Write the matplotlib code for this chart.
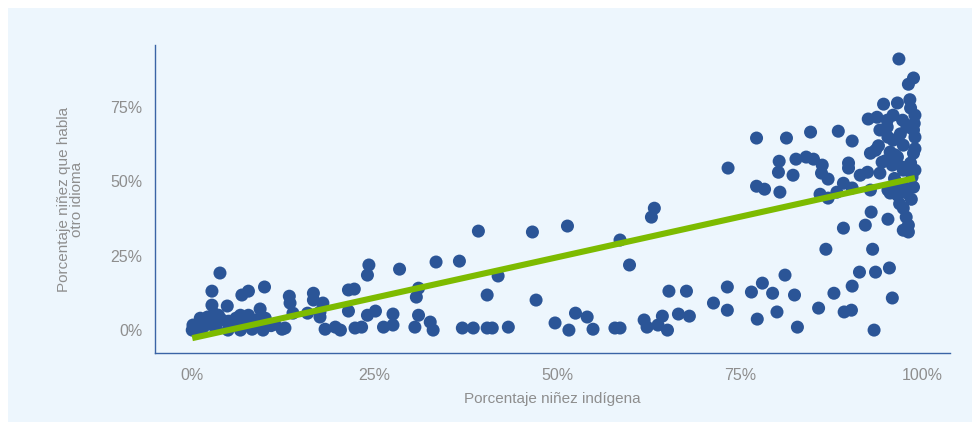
import matplotlib
matplotlib.use("Agg")
import matplotlib.pyplot as plt
from matplotlib.patches import Rectangle
from matplotlib.ticker import FuncFormatter

# Percentage of indigenous children (x) vs percentage speaking another language (y)
pct_indigena = [
    0.0, 0.1, 0.7, 1.1, 1.8, 2.1, 2.7, 2.7, 3.8, 3.2, 4.1, 4.8, 5.5, 6.0, 6.6, 6.8,
    7.7, 7.7, 6.6, 8.2, 8.6, 9.3, 9.9, 9.7, 10.0, 4.9, 3.6, 1.1, 12.7, 12.3,
    13.3, 13.4, 13.8, 15.8, 16.6, 16.6, 17.9, 17.5, 17.5, 18.2, 19.6, 20.3,
    21.4, 22.2, 21.4, 22.3, 23.2, 24.2, 24.0, 24.0, 25.1, 26.2, 27.5, 27.5,
    28.4, 30.5, 30.7, 31.0, 31.0, 32.6, 33.0, 33.4, 36.6, 37.0, 38.5, 39.2,
    40.4, 41.1, 40.4, 41.9, 43.3, 46.6, 47.1, 49.7, 51.4, 51.6, 52.5, 54.1,
    54.9, 57.9, 58.6, 58.6, 59.9, 61.9, 62.3, 62.9, 63.3, 63.8, 64.4, 65.1,
    65.3, 66.6, 67.7, 68.1, 71.4, 73.3, 73.3, 73.4, 76.6, 77.3, 77.3, 77.4,
    78.1, 78.4, 79.5, 80.1, 80.3, 80.4, 80.5, 81.2, 81.4, 82.3, 82.5, 82.7,
    82.9, 84.1, 84.7, 85.1, 85.8, 86.0, 86.2, 86.3, 86.8, 87.1, 87.1, 87.9,
    88.3, 88.5, 89.2, 89.2, 89.3, 89.9, 89.9, 90.3, 90.4, 90.4, 90.4, 91.4,
    91.5, 92.2, 92.5, 92.6, 92.9, 92.9, 93.0, 93.2, 93.4, 93.6, 93.6, 93.8,
    94.2, 94.2, 94.7, 95.2, 95.2, 95.3, 95.3, 95.3, 95.5, 95.6, 95.6, 95.9,
    95.9, 96.0, 96.0, 96.6, 96.6, 96.6, 96.6, 96.8, 97.3, 97.4, 97.4, 97.4,
    97.4, 97.7, 97.9, 97.9, 98.1, 98.1, 98.1, 98.4, 98.4, 98.6, 98.8, 98.8,
    98.8, 98.8, 99.0, 99.0, 99.0, 96.3, 97.3,
    # extra density
    0.4, 1.5, 2.5, 3.0, 5.0, 7.3, 8.9, 10.8, 11.3, 94.0, 97.0, 96.2, 95.0,
    98.5, 99.0, 97.8, 98.9, 96.9, 94.5, 98.3,
]
pct_otro_idioma = [
    0.0, 1.7, 0.7, 0.0, 2.7, 4.4, 8.4, 13.1, 19.2, 1.0, 3.4, 8.1, 1.7, 4.0, 5.0, 11.8,
    13.1, 5.0, 0.0, 0.3, 2.7, 7.1, 14.5, 0.0, 4.0, 0.0, 5.0, 4.0, 0.7, 0.3,
    11.4, 9.1, 5.7, 5.7, 12.4, 10.1, 9.1, 6.1, 4.4, 0.3, 1.0, 0.0,
    13.5, 13.8, 6.4, 0.7, 1.0, 21.9, 18.5, 5.0, 6.4, 1.0, 5.4, 1.7,
    20.5, 1.0, 11.1, 14.1, 5.0, 2.7, 0.0, 22.9, 23.2, 0.7, 0.7, 33.3,
    0.7, 0.7, 11.8, 18.2, 1.0, 33.0, 10.1, 2.4, 35.0, 0.0, 5.7, 4.4,
    0.3, 0.7, 0.7, 30.3, 21.9, 3.4, 1.0, 38.0, 41.0, 1.7, 4.7, 0.0,
    13.1, 5.4, 13.1, 4.7, 9.1, 14.5, 6.7, 54.5, 12.8, 64.6, 48.4, 3.7,
    15.8, 47.4, 12.4, 6.1, 53.1, 56.8, 46.4, 18.5, 64.6, 52.1, 11.8, 57.5,
    1.0, 58.2, 66.6, 57.5, 7.4, 45.7, 52.8, 55.5, 27.2, 50.8, 44.4, 12.4,
    46.4, 66.9, 49.4, 34.3, 6.1, 56.2, 54.5, 6.7, 63.6, 14.8, 47.8, 19.5,
    52.1, 35.3, 53.1, 71.0, 59.5, 47.1, 39.7, 27.2, 0.0, 19.5, 60.5, 71.6,
    67.3, 52.8, 76.0, 68.3, 70.6, 64.9, 47.1, 37.3, 20.9, 59.9, 46.1, 55.5,
    10.8, 72.3, 63.9, 76.4, 58.2, 48.1, 45.4, 91.2, 70.6, 62.2, 53.8, 41.0,
    33.6, 47.8, 68.3, 46.1, 82.7, 35.3, 33.0, 74.7, 56.2, 51.5, 84.8, 67.3,
    59.5, 48.1, 72.3, 64.9, 53.8, 58.9, 54.8,
    # extra density
    0.5, 1.0, 2.0, 5.5, 3.0, 2.0, 3.5, 1.5, 2.0, 62.0, 66.0, 51.0, 57.0,
    44.0, 61.0, 38.0, 69.5, 42.5, 56.5, 77.5,
]

# Fitted trend line
fit_intercept = -2.7
fit_slope = 0.544

x_ticks = [0, 25, 50, 75, 100]
y_ticks = [0, 25, 50, 75]
x_label = "Porcentaje niñez indígena"
y_label = "Porcentaje niñez que habla\notro idioma"

W, H = 980, 426
fig = plt.figure(figsize=(W / 100, H / 100), dpi=100)
fig.patch.set_facecolor("white")
panel = Rectangle((8 / W, 4 / H), 964 / W, 414 / H,
                  transform=fig.transFigure, facecolor="#EDF6FD",
                  edgecolor="none", zorder=-10)
fig.patches.append(panel)

ax = fig.add_axes([155 / W, 73 / H, 795 / W, 308 / H])
ax.set_facecolor("none")
ax.set_zorder(5)

dot_color = "#2B5597"
ax.scatter(pct_indigena, pct_otro_idioma, s=88, color=dot_color,
           edgecolors="none", zorder=2)

x0, x1 = min(pct_indigena), max(pct_indigena)
ax.plot([x0, x1], [fit_intercept + fit_slope * x0, fit_intercept + fit_slope * x1],
        color="#7DBB00", lw=4.4, solid_capstyle="butt", zorder=3)

ax.set_xlim(-5.1, 103.8)
ax.set_ylim(-7.7, 95.9)
ax.set_xticks(x_ticks)
ax.set_yticks(y_ticks)
fmt = FuncFormatter(lambda v, p: f"{int(v)}%")
ax.xaxis.set_major_formatter(fmt)
ax.yaxis.set_major_formatter(fmt)

for s in ["top", "right"]:
    ax.spines[s].set_visible(False)
for s in ["left", "bottom"]:
    ax.spines[s].set_color("#3A64A6")
    ax.spines[s].set_linewidth(1.0)

tick_color = "#8E8E8E"
ax.tick_params(axis="both", length=0, labelsize=11.5, labelcolor=tick_color,
               labelfontfamily="Liberation Sans")
ax.tick_params(axis="y", pad=9)
ax.tick_params(axis="x", pad=11)

ax.set_xlabel(x_label, fontsize=11, color=tick_color, family="Liberation Sans",
              labelpad=6.5)
ax.set_ylabel(y_label, fontsize=11, color=tick_color, family="Liberation Sans",
              labelpad=19, linespacing=0.9)

fig.savefig("out.png", dpi=100)
